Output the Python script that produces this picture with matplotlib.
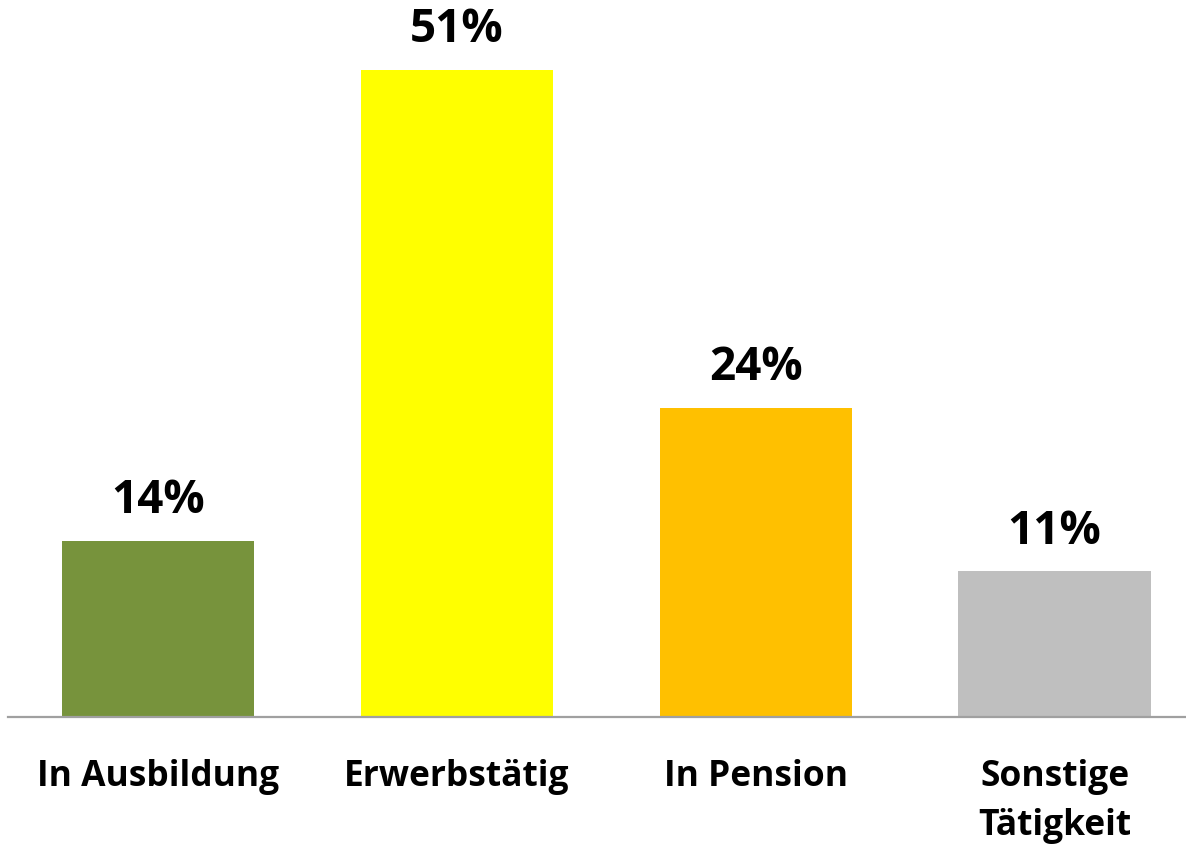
import matplotlib.pyplot as plt

# values (labels are rounded)
categories = ['In Ausbildung', 'Erwerbstätig', 'In Pension', 'Sonstige\nTätigkeit']
values = [13.8, 50.6, 24.2, 11.4]
labels = ['14%', '51%', '24%', '11%']
colors = ['#77933C', '#FFFF00', '#FFC000', '#BFBFBF']

plt.rcParams['font.family'] = ['Open Sans', 'DejaVu Sans']

fig = plt.figure(figsize=(11.86, 8.49), dpi=100)
ax = fig.add_axes([8 / 1186, 132 / 849, 1178 / 1186, 717 / 849])

x = range(len(categories))
bars = ax.bar(x, values, width=0.643, color=colors)

for b, lab in zip(bars, labels):
    ax.annotate(lab, (b.get_x() + b.get_width() / 2, b.get_height()),
                xytext=(0, 12), textcoords='offset points',
                ha='center', va='bottom', fontsize=33, fontweight='bold')

ax.set_xlim(-0.502, 3.44)
ax.set_ylim(0, 56.07)
ax.set_xticks(list(x))
ax.set_xticklabels(categories, fontsize=25.5, fontweight='bold', linespacing=1.48)
ax.tick_params(axis='x', length=0, pad=30)
ax.set_yticks([])

for s in ['top', 'right', 'left']:
    ax.spines[s].set_visible(False)
ax.spines['bottom'].set_color('#A0A0A0')
ax.spines['bottom'].set_linewidth(1.6)

fig.savefig('out.png', dpi=100)
